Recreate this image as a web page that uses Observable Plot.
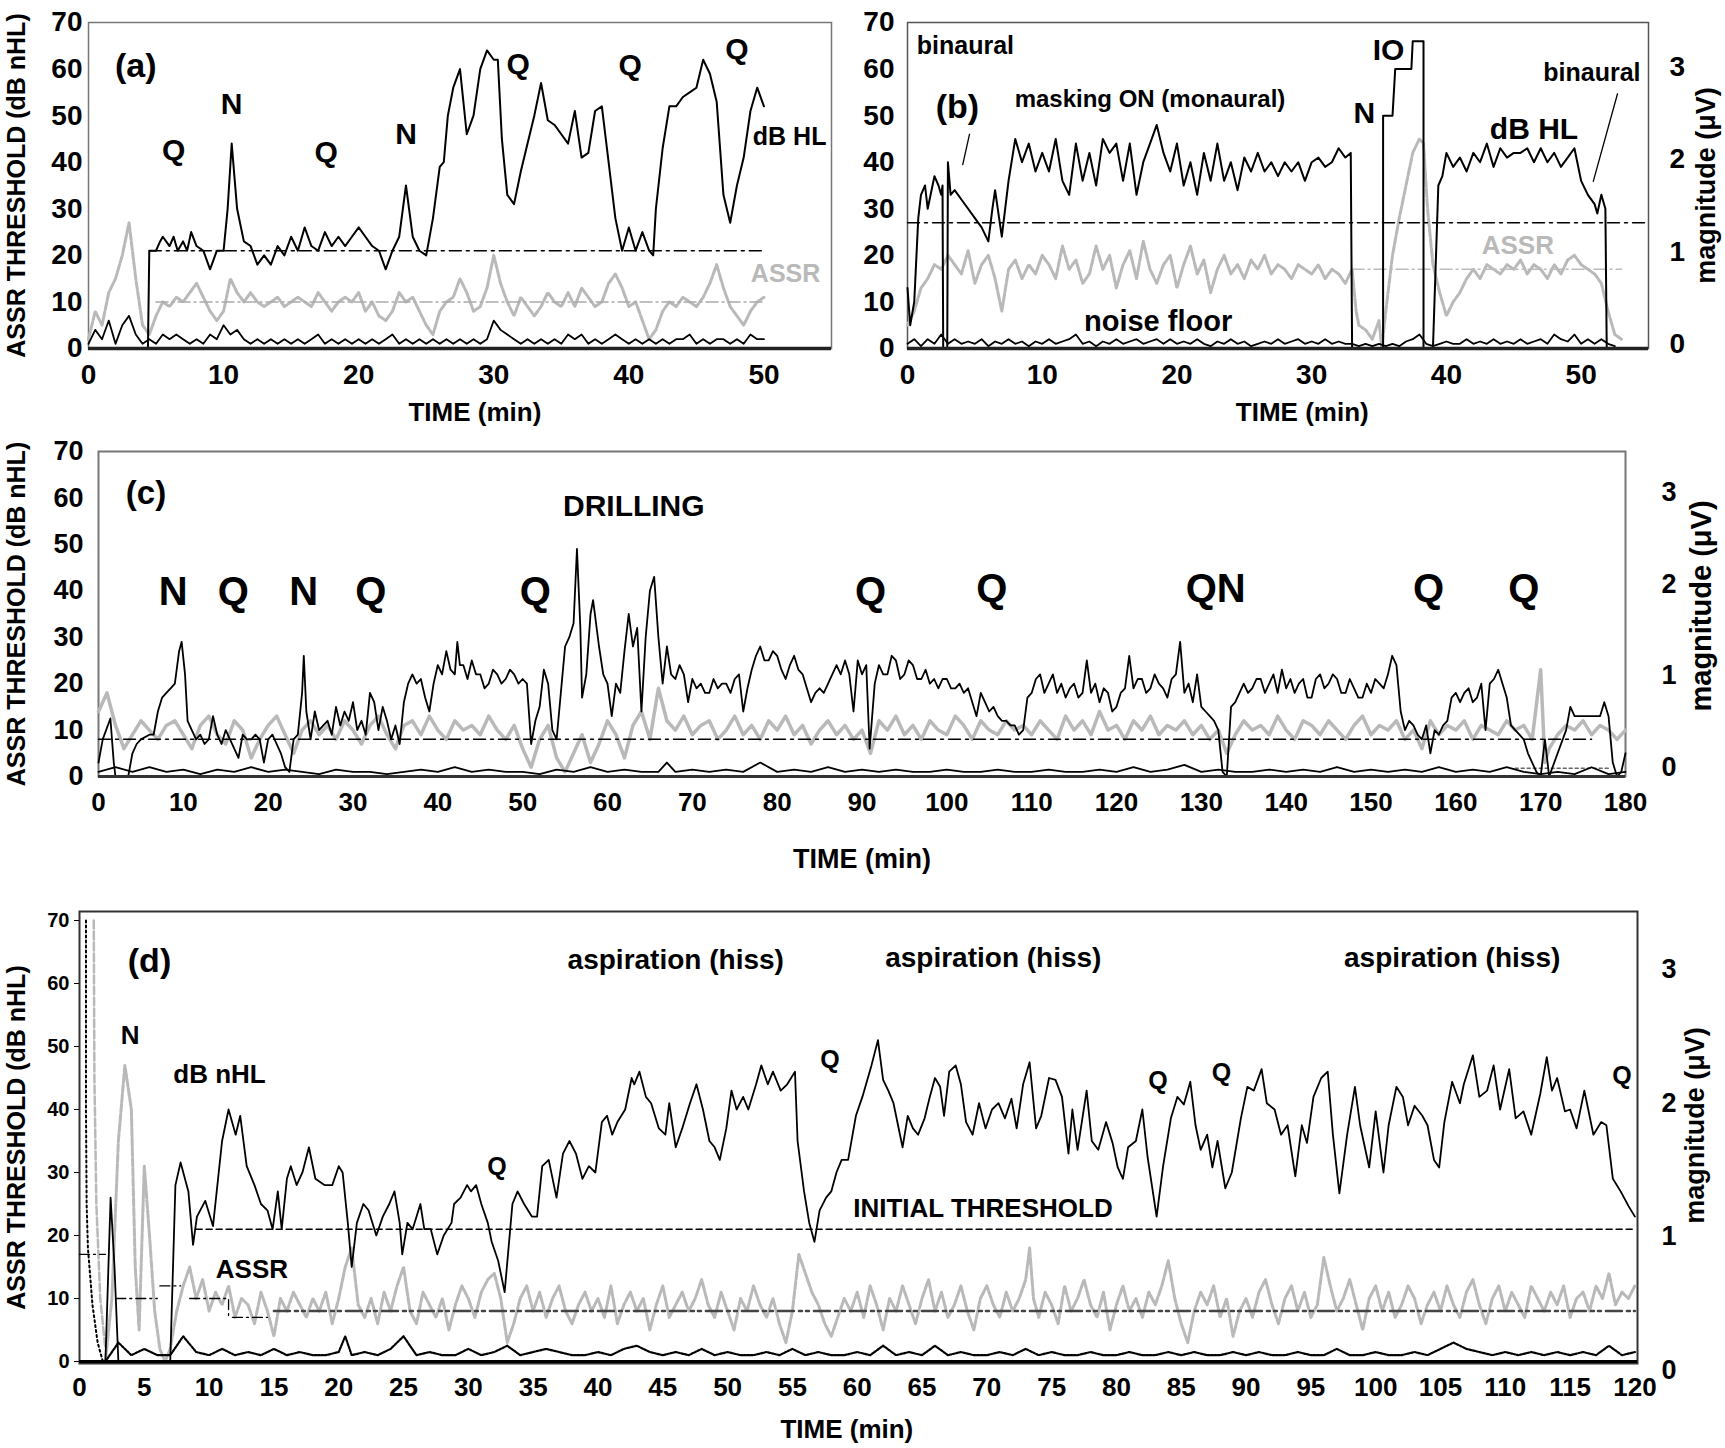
<!DOCTYPE html>
<html><head><meta charset="utf-8">
<script src="https://cdn.jsdelivr.net/npm/d3@7"></script>
<script src="https://cdn.jsdelivr.net/npm/@observablehq/plot@0.6"></script>
<style>
html,body{margin:0;padding:0;background:#fff}
body{width:1725px;height:1448px;position:relative;overflow:hidden;font-family:"Liberation Sans",Arial,sans-serif}
.panel{position:absolute}
</style></head><body>
<div id="pa" class="panel" style="left:0;top:0"></div>
<div id="pb" class="panel" style="left:860px;top:0"></div>
<div id="pc" class="panel" style="left:0;top:440px"></div>
<div id="pd" class="panel" style="left:0;top:890px"></div>
<script>
// ---------------- DATA ----------------
// Panel (a)
const aXTicks = [0,10,20,30,40,50];
const aYTicks = [0,10,20,30,40,50,60,70];
const aHL = [[4.4,0],[4.5,21],[5,21],[5.3,23],[5.5,24],[6,22],[6.3,24],[6.6,21],[7,23],[7.3,21],[7.6,25],[8,22],[8.5,21],[9,17],[9.5,21],[10,21],[10.3,30],[10.6,44],[11,30],[11.5,23],[12,22],[12.5,18],[13,20],[13.5,18],[14,22],[14.5,20],[15,24],[15.5,21],[16,26],[16.5,22],[17,21],[17.5,25],[18,22],[18.5,24],[19,22],[19.5,24],[20,26],[20.5,24],[21,22],[21.5,21],[22,17],[22.5,21],[23,24],[23.5,35],[24,24],[24.5,21],[25,20],[25.5,28],[26,39],[26.3,40],[26.6,50],[27,56],[27.5,60],[28,46],[28.5,50],[29,60],[29.5,64],[30,62],[30.3,62],[30.6,45],[31,33],[31.5,31],[32,38],[32.5,44],[33,50],[33.5,57],[34,49],[34.5,48],[35,46],[35.5,44],[36,51],[36.5,41],[37,42],[37.5,51],[38,52],[38.5,40],[39,28],[39.5,21],[40,26],[40.5,21],[41,25],[41.5,21],[41.8,20],[42,30],[42.5,43],[43,52],[43.5,52],[44,54],[44.5,55],[45,56],[45.5,62],[46,59],[46.5,53],[47,33],[47.5,27],[48,35],[48.5,41],[49,51],[49.5,56],[50,52]];
const aAssr = [[0,2],[0.5,8],[1,5],[1.5,12],[2,15],[2.5,20],[3,27],[3.5,15],[4,5],[4.5,3],[5,7],[5.5,10],[6,9],[6.5,11],[7,10],[7.5,12],[8,14],[8.5,11],[9,8],[9.5,6],[10,8],[10.5,15],[11,12],[11.5,10],[12,12],[12.5,10],[13,9],[13.5,10],[14,11],[14.5,9],[15,10],[15.5,11],[16,10],[16.5,9],[17,12],[17.5,10],[18,8],[18.5,10],[19,11],[19.5,10],[20,12],[20.5,8],[21,10],[21.5,7],[22,6],[22.5,8],[23,12],[23.5,10],[24,11],[24.5,8],[25,5],[25.5,3],[26,8],[26.5,10],[27,11],[27.5,15],[28,12],[28.5,8],[29,9],[29.5,13],[30,20],[30.5,14],[31,10],[31.5,7],[32,11],[32.5,9],[33,7],[33.5,9],[34,12],[34.5,10],[35,9],[35.5,12],[36,9],[36.5,13],[37,11],[37.5,9],[38,10],[38.5,14],[39,16],[39.5,13],[40,9],[40.5,10],[41,6],[41.5,2],[42,4],[42.5,8],[43,10],[43.5,9],[44,11],[44.5,10],[45,9],[45.5,11],[46,14],[46.5,18],[47,13],[47.5,9],[48,7],[48.5,5],[49,8],[49.5,10],[50,11]];
const aNoise = [[0,1],[0.5,4],[1,2],[1.5,6],[2,1],[2.5,5],[3,7],[3.5,3],[4,1],[4.5,2],[5,1],[5.5,3],[6,2],[6.5,3],[7,2],[7.5,1],[8,2],[8.5,1],[9,3],[9.5,2],[10,5],[10.5,3],[11,4],[11.5,2],[12,1],[12.5,2],[13,1],[13.5,2],[14,1],[14.5,2],[15,1],[15.5,2],[16,1],[16.5,2],[17,3],[17.5,1],[18,2],[18.5,1],[19,2],[19.5,1],[20,2],[20.5,1],[21,2],[21.5,1],[22,2],[22.5,3],[23,1],[23.5,2],[24,1],[24.5,2],[25,1],[25.5,2],[26,1],[26.5,2],[27,1],[27.5,2],[28,1],[28.5,2],[29,1],[29.5,2],[30,6],[30.5,4],[31,3],[31.5,2],[32,1],[32.5,2],[33,1],[33.5,2],[34,1],[34.5,2],[35,1],[35.5,3],[36,2],[36.5,3],[37,1],[37.5,2],[38,1],[38.5,2],[39,3],[39.5,2],[40,1],[40.5,2],[41,1],[41.5,2],[42,1],[42.5,2],[43,1],[43.5,2],[44,2],[44.5,3],[45,1],[45.5,2],[46,1],[46.5,2],[47,2],[47.5,1],[48,2],[48.5,1],[49,3],[49.5,2],[50,2]];
const aHLRef = [[4.5,21],[50,21]];
const aAssrRef = [[5,10],[50,10]];
const aNotes = [[3.5,60.7,"(a)",34],[6.3,42.5,"Q",30],[10.6,52.5,"N",30],[17.6,42.1,"Q",30],[23.5,46,"N",30],[31.8,61,"Q",30],[40.1,60.7,"Q",30],[48,64.3,"Q",30],[51.9,45.4,"dB HL",25]];
const aGrayNotes = [[51.6,15.9,"ASSR",25]];

// Panel (b)
const bXTicks = [0,10,20,30,40,50];
const bYTicks = [0,10,20,30,40,50,60,70];
const bMagTicks = [0,1,2,3];
const bHL = [[0,13],[0.2,5],[0.5,10],[0.8,28],[1,33],[1.3,35],[1.5,30],[2,37],[2.3,35],[2.5,33],[2.6,35],[2.65,0],[2.95,0],[3,40],[3.2,33],[3.5,34],[4,32],[4.5,30],[5,28],[5.5,26],[6,23],[6.3,30],[6.5,34],[6.8,28],[7,24],[7.5,36],[8,45],[8.5,40],[9,44],[9.5,38],[10,42],[10.5,38],[11,45],[11.5,36],[12,33],[12.5,44],[13,36],[13.5,42],[14,35],[14.5,45],[15,42],[15.5,44],[16,36],[16.5,44],[17,33],[17.5,40],[18,44],[18.5,48],[19,42],[19.5,38],[20,44],[20.5,35],[21,40],[21.5,33],[22,42],[22.5,36],[23,44],[23.5,36],[24,40],[24.5,34],[25,41],[25.5,38],[26,42],[26.5,38],[27,40],[27.5,37],[28,40],[28.5,38],[29,40],[29.5,36],[30,40],[30.5,41],[31,39],[31.5,40],[32,43],[32.5,41],[32.9,42],[33,0],[35.3,0],[35.3,50],[36,50],[36.2,60],[37.4,60],[37.5,66],[38.3,66],[38.3,0],[39,0],[39.4,35],[39.7,37],[40,42],[40.5,39],[41,41],[41.5,38],[42,42],[42.5,40],[43,44],[43.5,39],[44,43],[44.5,41],[45,42],[45.5,42],[46,43],[46.5,40],[47,43],[47.5,40],[48,42],[48.5,39],[49,41],[49.5,43],[50,36],[50.5,33],[51,31],[51.2,29],[51.5,33],[51.8,30],[51.9,0],[52.3,0]];
const bAssr = [[0,5],[0.5,8],[1,13],[1.5,15],[2,18],[2.5,17],[3,20],[3.5,18],[4,16],[4.5,21],[5,14],[5.5,18],[6,20],[6.5,15],[7,8],[7.5,17],[8,19],[8.5,15],[9,18],[9.5,16],[10,20],[10.5,18],[11,15],[11.5,22],[12,17],[12.5,19],[13,14],[13.5,16],[14,22],[14.5,17],[15,20],[15.5,13],[16,18],[16.5,21],[17,15],[17.5,23],[18,17],[18.5,14],[19,18],[19.5,20],[20,13],[20.5,18],[21,22],[21.5,16],[22,19],[22.5,12],[23,17],[23.5,20],[24,16],[24.5,18],[25,15],[25.5,19],[26,17],[26.5,20],[27,16],[27.5,18],[28,17],[28.5,15],[29,18],[29.5,17],[30,16],[30.5,18],[31,15],[31.5,17],[32,16],[32.5,14],[33,17],[33.3,8],[33.5,5],[34,4],[34.5,2],[35,6],[35.2,0],[35.5,8],[36,20],[36.5,28],[37,35],[37.5,42],[38,45],[38.3,44],[38.6,30],[39,18],[39.5,12],[40,7],[40.5,10],[41,12],[41.5,15],[42,17],[42.5,15],[43,18],[43.5,17],[44,16],[44.5,18],[45,17],[45.5,19],[46,16],[46.5,18],[47,17],[47.5,15],[48,18],[48.5,16],[49,19],[49.5,20],[50,18],[50.5,17],[51,16],[51.5,14],[52,8],[52.5,3],[53,2]];
const bNoise = [[0,1],[0.5,2],[1,0.5],[1.5,2],[2,1],[2.5,3],[3,1],[3.5,2],[4,1],[4.5,1.5],[5,1],[5.5,2],[6,0.5],[6.5,1.5],[7,1],[7.5,2],[8,1],[8.5,1.5],[9,0.5],[9.5,1.5],[10,1],[10.5,2],[11,1],[11.5,1.5],[12,2],[12.5,3],[13,1],[13.5,1.5],[14,0.5],[14.5,1.5],[15,1],[15.5,2],[16,1],[16.5,1.5],[17,2],[17.5,1],[18,1.5],[18.5,2],[19,1],[19.5,2],[20,1],[20.5,1.5],[21,1],[21.5,2],[22,1],[22.5,0.5],[23,1.5],[23.5,1],[24,2],[24.5,1],[25,1.5],[25.5,0.5],[26,1],[26.5,1.5],[27,1],[27.5,2],[28,1],[28.5,1.5],[29,2],[29.5,1],[30,1.5],[30.5,1],[31,2],[31.5,1],[32,1.5],[32.5,1],[33,1],[33.5,0.5],[34,1],[34.5,0.5],[35,1],[35.5,0.5],[36,1],[36.5,0.5],[37,1.5],[37.5,2],[38,3],[38.5,1],[39,0.5],[39.5,1],[40,1.5],[40.5,1],[41,1],[41.5,2],[42,1],[42.5,1.5],[43,1],[43.5,2],[44,1],[44.5,1.5],[45,1],[45.5,2],[46,1],[46.5,1.5],[47,2],[47.5,1],[48,3],[48.5,2],[49,1.5],[49.5,3],[50,1],[50.5,2],[51,1],[51.5,2],[52,1],[52.5,0.5]];
const bHLRef = [[0,27],[55,27]];
const bAssrRef = [[33,17],[53,17]];
const bLeaders = [[4.6,46,0],[4.1,39.5,0],[52.7,54.7,1],[50.9,35.9,1]];
const bNotes = [[4.3,64.9,"binaural",25],[3.7,51.8,"(b)",34],[18,53.6,"masking ON (monaural)",24],[33.9,50.4,"N",30],[35.7,64.1,"IO",30],[50.8,59.2,"binaural",25],[46.5,47.1,"dB HL",30],[18.6,5.8,"noise floor",29]];
const bGrayNotes = [[45.3,22,"ASSR",26]];

// Panel (c)
const cXTicks = [0,10,20,30,40,50,60,70,80,90,100,110,120,130,140,150,160,170,180];
const cYTicks = [0,10,20,30,40,50,60,70];
const cMagTicks = [0,1,2,3];
const cHL = [[0,3],[0.5,8],[1.4,12.5],[1.8,3],[2,0],[3.5,0],[4,5],[4.5,7],[5,8],[6,9],[6.5,9],[7,14],[7.5,17],[8,18],[8.5,19],[9,20],[9.5,27],[9.8,29],[10.2,22],[10.5,12],[11,10],[11.5,8],[12,9],[12.5,7],[13,8],[13.5,13],[14,9],[14.5,7],[15,10],[15.5,8],[16,6],[16.5,4],[17,9],[17.5,8],[18,8],[18.5,9],[19,8],[19.5,3],[20,8],[20.5,9],[21,7],[21.5,5],[22,2],[22.5,1],[23,8],[23.5,9],[24,18],[24.2,26],[24.5,14],[25,8],[25.5,14],[26,10],[26.5,11],[27,12],[27.5,9],[28,15],[28.5,11],[29,14],[29.5,12],[30,16],[30.5,10],[31,12],[31.5,9],[32,18],[32.5,16],[33,10],[33.5,15],[34,12],[34.5,8],[35,11],[35.5,7],[36,16],[36.5,20],[37,22],[37.5,20],[38,21],[38.5,17],[39,14],[39.5,20],[40,24],[40.5,22],[41,27],[41.5,23],[42,22],[42.3,29],[42.6,24],[43,24],[43.5,21],[44,25],[44.5,22],[45,22],[45.5,19],[46,20],[46.5,23],[47,22],[47.5,20],[48,21],[48.5,23],[49,22],[49.5,20],[50,21],[50.5,20],[51,7],[51.5,12],[52,15],[52.5,23],[53,20],[53.5,10],[54,8],[54.5,18],[55,28],[55.5,30],[56,33],[56.4,49],[56.8,32],[57,17],[57.5,22],[58,35],[58.3,38],[59,28],[59.5,22],[60,20],[60.5,13],[61,20],[61.5,18],[62,27],[62.5,35],[63,28],[63.5,32],[64,14],[64.5,30],[65,40],[65.5,43],[66,30],[66.5,20],[67,28],[67.5,22],[68,21],[68.5,24],[69,22],[69.5,16],[70,21],[70.5,19],[71,20],[71.5,18],[72,18],[72.5,21],[73,19],[73.5,20],[74,20],[74.5,18],[75,21],[75.5,22],[76,14],[76.5,19],[77,23],[77.5,26],[78,28],[78.5,25],[79,25],[79.5,27],[80,26],[80.5,23],[81,21],[81.5,24],[82,26],[82.5,23],[83,22],[83.5,19],[84,16],[84.5,18],[85,19],[85.5,18],[86,20],[86.5,22],[87,24],[87.5,22],[88,25],[88.5,22],[89,14],[89.5,25],[90,22],[90.5,24],[90.9,6],[91.5,20],[92,24],[92.5,22],[93,22],[93.5,26],[94,25],[94.5,21],[95,22],[95.5,25],[96,24],[96.5,21],[97,21],[97.5,23],[98,20],[98.5,21],[99,19],[99.5,21],[100,21],[100.5,19],[101,19],[101.5,20],[102,18],[102.5,19],[103,16],[103.5,13],[104,18],[104.5,16],[105,14],[105.5,15],[106,13],[106.5,12],[107,12],[107.5,11],[108,11],[108.5,9],[109,10],[109.5,17],[110,18],[110.5,21],[111,22],[111.5,18],[112,20],[112.5,22],[113,18],[113.5,20],[114,17],[114.5,19],[115,20],[115.5,17],[116,18],[116.5,25],[117,18],[117.5,20],[118,16],[118.5,19],[119,18],[119.5,14],[120,15],[120.5,18],[121,19],[121.5,26],[122,19],[122.5,21],[123,21],[123.5,18],[124,19],[124.5,22],[125,20],[125.5,19],[126,17],[126.5,21],[127,22],[127.5,29],[128,18],[128.5,20],[129,16],[129.5,22],[130,15],[130.5,14],[131,13],[131.5,12],[132,10],[132.5,1],[133,0],[133.5,15],[134,16],[134.5,18],[135,20],[135.5,18],[136,19],[136.5,21],[137,21],[137.5,18],[138,20],[138.5,22],[139,18],[139.5,23],[140,19],[140.5,21],[141,18],[141.5,20],[142,21],[142.5,17],[143,17],[143.5,21],[144,22],[144.5,19],[145,20],[145.5,22],[146,21],[146.5,18],[147,18],[147.5,21],[148,19],[148.5,17],[149,17],[149.5,20],[150,18],[150.5,21],[151,20],[151.5,19],[152,22],[152.5,26],[153,24],[153.5,14],[154,10],[154.5,12],[155,11],[155.5,9],[156,8],[156.5,11],[157,5],[157.5,10],[158,9],[158.5,11],[159,12],[159.5,17],[160,18],[160.5,16],[161,18],[161.5,19],[162,16],[162.5,17],[163,20],[163.5,10],[164,20],[164.5,21],[165,23],[165.5,20],[166,17],[166.5,11],[167,10],[167.5,9],[168,8],[168.5,5],[169,3],[169.5,1],[170,0],[170.5,8],[171,0],[172,5],[173,10],[173.5,15],[174,13],[175,13],[176,13],[177,13],[177.5,16],[178,13],[178.5,3],[179,0],[179.5,1],[180,5]];
const cAssr = [[0,14],[1,18],[2,11],[3,6],[4,9],[5,12],[6,10],[7,8],[8,11],[9,12],[10,9],[11,6],[12,11],[13,13],[14,9],[15,7],[16,12],[17,10],[18,4],[19,8],[20,11],[21,13],[22,9],[23,5],[24,10],[25,12],[26,9],[27,11],[28,8],[29,12],[30,10],[31,7],[32,11],[33,13],[34,9],[35,6],[36,11],[37,12],[38,9],[39,13],[40,10],[41,8],[42,12],[43,10],[44,11],[45,9],[46,13],[47,10],[48,8],[49,11],[50,6],[51,2],[52,8],[53,11],[54,4],[55,1],[56,5],[57,9],[58,3],[59,7],[60,12],[61,9],[62,4],[63,11],[64,14],[65,8],[66,19],[67,12],[68,10],[69,13],[70,9],[71,11],[72,12],[73,8],[74,10],[75,13],[76,9],[77,11],[78,8],[79,12],[80,10],[81,13],[82,9],[83,11],[84,7],[85,10],[86,12],[87,9],[88,11],[89,8],[90,10],[91,5],[92,12],[93,10],[94,13],[95,9],[96,11],[97,8],[98,12],[99,10],[100,9],[101,13],[102,11],[103,8],[104,12],[105,10],[106,9],[107,12],[108,10],[109,11],[110,9],[111,12],[112,10],[113,8],[114,13],[115,10],[116,12],[117,9],[118,14],[119,10],[120,11],[121,8],[122,12],[123,10],[124,13],[125,9],[126,11],[127,10],[128,12],[129,9],[130,11],[131,8],[132,10],[133,5],[134,9],[135,12],[136,10],[137,11],[138,9],[139,13],[140,10],[141,8],[142,12],[143,11],[144,9],[145,12],[146,10],[147,8],[148,11],[149,13],[150,9],[151,11],[152,10],[153,12],[154,8],[155,10],[156,6],[157,12],[158,9],[159,11],[160,10],[161,12],[162,8],[163,11],[164,10],[165,9],[166,12],[167,10],[168,11],[169,8],[170,23],[170.5,3],[171,6],[172,9],[173,11],[174,10],[175,12],[176,9],[177,11],[178,10],[179,8],[180,10]];
const cNoise = [[0,1],[2,2],[4,1],[6,2],[8,1],[10,1.5],[12,0.5],[14,1.5],[16,1],[18,2],[20,1],[22,1.5],[24,1],[26,0.5],[28,1.5],[30,1],[32,1],[34,0.5],[36,1],[38,1.5],[40,1],[42,2],[44,1],[46,1.5],[48,1],[50,1],[52,0.5],[54,1.5],[56,1],[58,2],[60,1],[62,1.5],[64,1],[66,1],[67,3],[68,1],[70,1.5],[72,1],[74,1.5],[76,1],[78,3],[80,1],[82,1.5],[84,1],[86,2],[88,1],[90,1.5],[92,1],[94,1.5],[96,1],[98,1],[100,1.5],[102,1],[104,1],[106,1.5],[108,1],[110,1],[112,1.5],[114,1],[116,1],[118,1.5],[120,1],[122,2],[124,1],[126,1.5],[128,2.5],[130,1],[132,1.5],[134,1],[136,1],[138,1.5],[140,1],[142,1.5],[144,1],[146,2],[148,1],[150,1.5],[152,1],[154,1.5],[156,1],[158,2],[160,1],[162,1.5],[164,1],[166,2],[168,1],[170,0.5],[172,1],[174,0.5],[176,2],[178,0.5],[180,1]];
const cHLRef = [[0,8],[176,8]];
const cNoiseRef = [[167,1.8],[178,1.8]];
const cNotes = [[5.6,61,"(c)",33],[63.1,58.2,"DRILLING",30],[8.8,39.7,"N",40],[15.9,39.7,"Q",40],[24.2,39.7,"N",40],[32.1,39.7,"Q",40],[51.5,39.7,"Q",40],[91,39.7,"Q",40],[105.3,40.4,"Q",40],[131.7,40.4,"QN",40],[156.8,40.4,"Q",40],[168,40.4,"Q",40]];

// Panel (d)
const dXTicks = [0,5,10,15,20,25,30,35,40,45,50,55,60,65,70,75,80,85,90,95,100,105,110,115,120];
const dYTicks = [0,10,20,30,40,50,60,70];
const dMagTicks = [0,1,2,3];
const dHL = [[2,0],[2.4,26],[2.7,15],[3,0],[7,0],[7.4,28],[7.8,31.6],[8.4,27],[8.76,18.5],[9.06,23],[9.7,25.5],[10.3,21.5],[11,35],[11.5,40],[12.05,36],[12.4,39],[12.9,31],[13.5,28],[14,25],[14.5,24],[14.9,21],[15.3,27],[15.6,21],[16,29],[16.3,31],[16.75,28],[17.2,30],[17.7,34],[18.2,29],[18.9,28],[19.5,28],[20,31],[20.3,30],[20.7,22],[21,15],[21.4,22],[21.9,25],[22.3,24],[22.6,22],[22.9,20],[23.4,23],[23.9,25],[24.3,27],[24.7,22],[24.9,17],[25.3,22],[25.7,21],[26.3,25],[26.6,21],[27.1,21],[27.6,17],[28.1,20],[28.7,22],[28.9,25],[29.4,26],[29.9,28],[30.2,27],[30.6,28],[31,25],[31.5,22],[31.8,19],[32.3,16],[32.8,11],[33.1,18],[33.4,25],[33.8,27],[34.3,25],[34.9,23],[35.3,23],[35.7,31],[36.2,32],[36.8,26],[37.3,33],[37.8,35],[38.3,33],[38.8,29],[39.3,31],[39.8,30],[40.3,38],[40.7,39],[41.1,36],[41.5,38],[42.1,40],[42.6,45],[42.8,44],[43.2,46],[43.7,42],[44.1,41],[44.7,37],[45.2,36],[45.5,41],[46,34],[46.5,37],[47.1,41],[47.6,44],[48.1,40],[48.6,35],[49,34],[49.4,32],[49.9,37],[50.3,43],[50.7,40],[51.2,42],[51.6,40],[52.2,44],[52.6,47],[53.1,44],[53.5,46],[54.1,43],[54.6,44],[55.2,46],[55.4,35],[55.9,27],[56.3,22],[56.7,19],[57.1,24],[57.6,26],[58,27],[58.4,30],[58.8,32],[59.3,32],[59.9,39],[60.4,42],[61.1,47],[61.6,51],[62,44.7],[62.4,43],[62.8,41],[63.5,34],[63.9,39],[64.3,37],[64.7,36],[65.2,38.6],[65.6,42],[66,45],[66.4,43.6],[66.7,39],[67.1,46],[67.6,47],[68,44],[68.4,38],[68.9,36],[69.4,41],[69.9,37],[70.4,40],[70.9,41],[71.4,38.6],[71.9,41.7],[72.3,37],[72.8,44],[73.3,47.5],[73.8,37],[74.2,39],[74.8,45],[75.3,44.7],[75.8,42],[76.3,33],[76.6,40],[77,33.6],[77.7,43],[78.1,35],[78.6,33.6],[79.2,38],[79.7,34.7],[80.1,30.8],[80.5,29],[80.9,34],[81.5,35],[82,40],[82.4,32.5],[83.1,23],[83.6,31],[84.2,38.6],[84.7,42],[85.2,40.8],[85.7,44.4],[86.1,37.5],[86.5,33.6],[87,36],[87.4,30.8],[87.8,35],[88.4,27.5],[88.9,30],[89.6,38.6],[90.1,43.6],[90.6,43],[91.2,46.4],[91.6,41],[92.2,40],[92.7,36],[93.2,37.5],[93.8,29.4],[94.3,37.5],[94.7,34.7],[95.2,42],[95.8,45],[96.3,46],[96.7,36],[97.2,26.7],[97.8,36],[98.4,43.6],[98.8,37.5],[99.5,30.8],[100,39.7],[100.6,30],[101,37.5],[101.6,43.6],[102.1,42],[102.5,37.5],[103,40.6],[103.6,39],[104,37.5],[104.5,32],[104.9,30.8],[105.3,38],[105.9,44.4],[106.5,41],[106.8,44],[107.5,48.6],[108,42],[108.6,43],[109.1,47],[109.6,40],[110.3,46.4],[110.8,38.6],[111.4,39.7],[112,36],[112.7,42.5],[113.2,48.3],[113.6,43],[114,45],[114.6,39.7],[115,40],[115.5,37],[116.1,43],[116.8,36],[117.4,38],[117.8,37.5],[118.3,29],[118.9,27],[119.5,24.7],[120,23]];
const dAssr = [[2,0],[2.5,10],[3,35],[3.5,47],[4,40],[4.3,15],[4.6,5],[5,31],[5.4,20],[5.8,8],[6.2,2],[6.6,0],[7,2],[7.5,8],[8,12],[8.5,15],[9,10],[9.5,13],[10,8],[10.5,11],[11,9],[11.5,12],[12,7],[12.5,10],[13,9],[13.5,6],[14,11],[14.5,8],[15,4],[15.5,10],[16,8],[16.5,11],[17,9],[17.5,7],[18,10],[18.5,8],[19,11],[19.5,6],[20,10],[20.5,15],[21,18],[21.5,9],[22,7],[22.5,10],[23,6],[23.5,11],[24,8],[24.5,12],[25,15],[25.5,8],[26,6],[26.5,11],[27,9],[27.5,7],[28,10],[28.5,5],[29,9],[29.5,12],[30,10],[30.5,7],[31,11],[31.5,13],[32,14],[32.5,10],[33,3],[33.5,6],[34,10],[34.5,12],[35,8],[35.5,11],[36,7],[36.5,10],[37,12],[37.5,8],[38,6],[38.5,9],[39,11],[39.5,8],[40,10],[40.5,7],[41,12],[41.5,6],[42,9],[42.5,11],[43,8],[43.5,10],[44,5],[44.5,9],[45,12],[45.5,7],[46,9],[46.5,11],[47,8],[47.5,10],[48,13],[48.5,9],[49,7],[49.5,11],[50,8],[50.5,5],[51,10],[51.5,8],[52,12],[52.5,9],[53,7],[53.5,10],[54,6],[54.5,3],[55,8],[55.5,17],[56,14],[56.5,11],[57,9],[57.5,6],[58,4],[58.5,7],[59,10],[59.5,8],[60,11],[60.5,7],[61,12],[61.5,9],[62,5],[62.5,10],[63,8],[63.5,12],[64,9],[64.5,6],[65,10],[65.5,13],[66,8],[66.5,11],[67,7],[67.5,9],[68,12],[68.5,8],[69,5],[69.5,10],[70,12],[70.5,9],[71,7],[71.5,11],[72,8],[72.5,10],[73,13],[73.3,18],[73.6,10],[74,7],[74.5,11],[75,9],[75.5,6],[76,12],[76.5,8],[77,10],[77.5,13],[78,9],[78.5,7],[79,11],[79.5,5],[80,9],[80.5,12],[81,8],[81.5,10],[82,7],[82.5,11],[83,9],[83.5,12],[84,16],[84.5,10],[85,6],[85.5,3],[86,8],[86.5,11],[87,9],[87.5,12],[88,7],[88.5,10],[89,4],[89.5,8],[90,10],[90.5,7],[91,11],[91.5,13],[92,9],[92.5,6],[93,10],[93.5,12],[94,8],[94.5,11],[95,7],[95.5,9],[96,16.5],[96.5,12],[97,8],[97.5,10],[98,13],[98.5,9],[99,5],[99.5,10],[100,12],[100.5,8],[101,11],[101.5,7],[102,9],[102.5,12],[103,10],[103.5,6],[104,9],[104.5,11],[105,8],[105.5,12],[106,9],[106.5,7],[107,11],[107.5,13],[108,9],[108.5,6],[109,10],[109.5,12],[110,8],[110.5,11],[111,9],[111.5,7],[112,12],[112.5,10],[113,8],[113.5,11],[114,9],[114.5,12],[115,7],[115.5,10],[116,11],[116.5,8],[117,12],[117.5,10],[118,14],[118.5,9],[119,11],[119.5,10],[120,12]];
const dNoise = [[2,0],[3,3],[4,1],[5,2],[6,1],[7,1],[8,4],[9,1.5],[10,1],[11,2],[12,1],[13,1.5],[14,1],[15,2],[16,1],[17,1.5],[18,1],[19,1],[20,1.5],[20.5,4],[21,1],[22,1.5],[23,1],[24,2],[25,4],[26,1],[27,1.5],[28,1],[29,1],[30,2],[31,1],[32,1.5],[33,2.5],[34,1],[35,1.5],[36,2],[37,1.5],[38,1],[39,1],[40,1.5],[41,1],[42,2],[43,2.5],[44,1.5],[45,1],[46,1.5],[47,1],[48,2],[49,1],[50,1.5],[51,1],[52,1],[53,1.5],[54,1],[55,2],[56,1],[57,1.5],[58,1],[59,1],[60,1.5],[61,1],[62,2.5],[63,1],[64,1.5],[65,1],[66,2.5],[67,1],[68,1.5],[69,1],[70,1],[71,1.5],[72,1],[73,2],[74,1],[75,1.5],[76,1],[77,1],[78,1.5],[79,1],[80,1],[81,1.5],[82,1],[83,1],[84,1.5],[85,1],[86,1.5],[87,1],[88,1],[89,1.5],[90,1],[91,1.5],[92,1],[93,1],[94,1.5],[95,1],[96,1],[97,2],[98,1],[99,1],[100,1.5],[101,1],[102,1],[103,1.5],[104,1],[105,2],[106,3],[107,2],[108,1.5],[109,1],[110,1.5],[111,1],[112,1.5],[113,1],[114,1.5],[115,1],[116,1.5],[117,1],[118,2.5],[119,1],[120,1.5]];
const dEarlyBlack = [[0.5,70],[0.5,40],[0.55,25],[0.65,18],[1.0,9],[1.4,3],[1.8,0]];
const dEarlyGray = [[1.1,70],[1.15,45],[1.3,25],[1.6,10],[2,2]];
const dStepRef = [[0,17,0],[2,17,0],[2.8,10,1],[6,10,1],[6.2,12,2],[7.8,12,2],[8.5,10,3],[11.5,10,3],[11.5,7,3],[11.8,7,4],[14.5,7,4]];
const dAssrRef = [[15,8],[120,8]];
const dInitRef = [[9,21],[120,21]];
const dNotes = [[5.4,63.5,"(d)",34],[3.9,51.7,"N",26],[10.8,45.6,"dB nHL",26],[13.3,14.6,"ASSR",26],[32.2,30.9,"Q",25],[57.9,47.8,"Q",25],[46,63.8,"aspiration (hiss)",28],[70.5,64,"aspiration (hiss)",28],[105.9,64,"aspiration (hiss)",28],[69.7,24.2,"INITIAL THRESHOLD",26],[83.2,44.6,"Q",25],[88.1,45.8,"Q",25],[119,45.3,"Q",25]];

// secondary-axis calibration (dB position of magnitude ticks)
const bMag = {off: 1, k: 19.8};
const cMag = {off: 2, k: 19.7};
const dMag = {off: -1.4, k: 21.2};

// ---------------- HELPERS ----------------
const FONT = '"Liberation Sans", Arial, Helvetica, sans-serif';
const X = d => d[0], Y = d => d[1];
const GRAY = "#b9b9b9";
const style = {fontFamily: FONT, background: "transparent", color: "#000", overflow: "visible"};
const notes = (arr, fill = "#000") => arr.map(n => Plot.text([n], {x: X, y: Y, text: d => d[2], fontSize: n[3], fontWeight: "bold", fill}));
const yTitle = (dx, fs) => Plot.text(["ASSR THRESHOLD (dB nHL)"], {frameAnchor: "left", dx, rotate: -90, textAnchor: "middle", lineAnchor: "middle", fontSize: fs, fontWeight: "bold"});
const magTitle = (dx, fs, dy = 0) => Plot.text(["magnitude (\u03bcV)"], {frameAnchor: "right", dx, dy, rotate: -90, textAnchor: "middle", lineAnchor: "middle", fontSize: fs, fontWeight: "bold"});
const xTitle = (x, dy, fs) => Plot.text(["TIME (min)"], {x: [x], frameAnchor: "bottom", dy, lineAnchor: "middle", fontSize: fs, fontWeight: "bold"});
const magAxis = (ticks, cal, pad, fs) => Plot.axisY({anchor: "right", ticks: ticks.map(m => cal.off + cal.k * m), tickFormat: d => String(Math.round((d - cal.off) / cal.k)), tickSize: 0, tickPadding: pad, fontSize: fs, fontWeight: "bold", label: null});

// ---------------- PANEL (a) ----------------
document.getElementById("pa").append(Plot.plot({
  width: 860, height: 440, marginLeft: 88, marginRight: 29, marginTop: 22, marginBottom: 92,
  x: {domain: [0, 55]}, y: {domain: [0, 70]}, style,
  marks: [
    Plot.frame({stroke: "#777", strokeWidth: 1.5}),
    Plot.line(aAssr, {x: X, y: Y, stroke: GRAY, strokeWidth: 3, strokeDasharray: "8,2"}),
    Plot.line(aAssrRef, {x: X, y: Y, stroke: "#aaa", strokeWidth: 1.5, strokeDasharray: "12,4,2,4"}),
    Plot.line(aHLRef, {x: X, y: Y, stroke: "#000", strokeWidth: 1.5, strokeDasharray: "12,5,3,5"}),
    Plot.line(aNoise, {x: X, y: Y, stroke: "#000", strokeWidth: 1.8}),
    Plot.line(aHL, {x: X, y: Y, stroke: "#000", strokeWidth: 2}),
    Plot.ruleY([0], {stroke: "#222", strokeWidth: 3.5}),
    Plot.axisX({ticks: aXTicks, tickSize: 0, tickPadding: 16, fontSize: 28, fontWeight: "bold", label: null}),
    Plot.axisY({ticks: aYTicks, tickSize: 0, tickPadding: 6, fontSize: 28, fontWeight: "bold", label: null}),
    yTitle(-71.5, 25),
    xTitle(28.6, 64, 26),
    ...notes(aNotes),
    ...notes(aGrayNotes, GRAY)
  ]
}));

// ---------------- PANEL (b) ----------------
document.getElementById("pb").append(Plot.plot({
  width: 865, height: 440, marginLeft: 47, marginRight: 77, marginTop: 22, marginBottom: 92,
  x: {domain: [0, 55]}, y: {domain: [0, 70]}, style,
  marks: [
    Plot.frame({stroke: "#555", strokeWidth: 1.5}),
    Plot.line(bAssr, {x: X, y: Y, stroke: GRAY, strokeWidth: 3, strokeDasharray: "8,2"}),
    Plot.line(bAssrRef, {x: X, y: Y, stroke: "#bbb", strokeWidth: 1.5, strokeDasharray: "12,4,2,4"}),
    Plot.line(bHLRef, {x: X, y: Y, stroke: "#000", strokeWidth: 1.5, strokeDasharray: "12,5,3,5"}),
    Plot.line(bNoise, {x: X, y: Y, stroke: "#000", strokeWidth: 1.8}),
    Plot.line(bHL, {x: X, y: Y, stroke: "#000", strokeWidth: 2}),
    Plot.line(bLeaders, {x: X, y: Y, z: d => d[2], stroke: "#000", strokeWidth: 1.3}),
    Plot.ruleY([0], {stroke: "#222", strokeWidth: 3.5}),
    Plot.axisX({ticks: bXTicks, tickSize: 0, tickPadding: 16, fontSize: 28, fontWeight: "bold", label: null}),
    Plot.axisY({ticks: bYTicks, tickSize: 0, tickPadding: 13, fontSize: 28, fontWeight: "bold", label: null}),
    magAxis(bMagTicks, bMag, 21, 28),
    magTitle(58, 27),
    xTitle(29.3, 64, 26),
    ...notes(bNotes),
    ...notes(bGrayNotes, GRAY)
  ]
}));

// ---------------- PANEL (c) ----------------
document.getElementById("pc").append(Plot.plot({
  width: 1725, height: 440, marginLeft: 98, marginRight: 100, marginTop: 11, marginBottom: 104,
  x: {domain: [0, 180]}, y: {domain: [0, 70]}, style,
  marks: [
    Plot.frame({stroke: "#777", strokeWidth: 2}),
    Plot.line(cAssr, {x: X, y: Y, stroke: GRAY, strokeWidth: 3.5}),
    Plot.line(cHLRef, {x: X, y: Y, stroke: "#000", strokeWidth: 1.5, strokeDasharray: "12,5,3,5"}),
    Plot.line(cNoiseRef, {x: X, y: Y, stroke: "#666", strokeWidth: 1.5, strokeDasharray: "3,3"}),
    Plot.line(cNoise, {x: X, y: Y, stroke: "#000", strokeWidth: 1.8}),
    Plot.line(cHL, {x: X, y: Y, stroke: "#000", strokeWidth: 1.8}),
    Plot.ruleY([0], {stroke: "#333", strokeWidth: 3}),
    Plot.axisX({ticks: cXTicks, tickSize: 0, tickPadding: 16, fontSize: 26, fontWeight: "bold", label: null}),
    Plot.axisY({ticks: cYTicks, tickSize: 0, tickPadding: 15, fontSize: 27, fontWeight: "bold", label: null}),
    magAxis(cMagTicks, cMag, 36, 27),
    magTitle(76, 29, -8),
    yTitle(-81.5, 25),
    xTitle(90, 83, 27),
    ...notes(cNotes)
  ]
}));

// ---------------- PANEL (d) ----------------
document.getElementById("pd").append(Plot.plot({
  width: 1725, height: 558, marginLeft: 79, marginRight: 88, marginTop: 21, marginBottom: 85,
  x: {domain: [0, 120.2]}, y: {domain: [-0.32, 71.43]}, style,
  marks: [
    Plot.frame({stroke: "#333", strokeWidth: 2}),
    Plot.line(dEarlyGray, {x: X, y: Y, stroke: GRAY, strokeWidth: 2.5, strokeDasharray: "8,3"}),
    Plot.line(dAssr, {x: X, y: Y, stroke: GRAY, strokeWidth: 3, strokeDasharray: "8,2"}),
    Plot.line(dStepRef, {x: X, y: Y, z: d => d[2], stroke: "#000", strokeWidth: 1.3, strokeDasharray: "10,4,2,4"}),
    Plot.line(dAssrRef, {x: X, y: Y, stroke: "#444", strokeWidth: 2.5, strokeDasharray: "16,5,3,4,3,5"}),
    Plot.line(dInitRef, {x: X, y: Y, stroke: "#000", strokeWidth: 1.6, strokeDasharray: "6,4"}),
    Plot.line(dEarlyBlack, {x: X, y: Y, stroke: "#000", strokeWidth: 2, strokeDasharray: "2,3"}),
    Plot.line(dNoise, {x: X, y: Y, stroke: "#000", strokeWidth: 2.2, strokeDasharray: "2,1.5"}),
    Plot.line(dHL, {x: X, y: Y, stroke: "#000", strokeWidth: 1.8}),
    Plot.ruleY([0], {stroke: "#000", strokeWidth: 3}),
    Plot.axisX({ticks: dXTicks, tickSize: 0, tickPadding: 14, fontSize: 26, fontWeight: "bold", label: null}),
    Plot.axisY({ticks: dYTicks, tickSize: 5, tickPadding: 5, fontSize: 20, fontWeight: "bold", label: null}),
    magAxis(dMagTicks, dMag, 24, 27),
    magTitle(58, 27, -12),
    yTitle(-62.5, 25),
    xTitle(59.2, 66, 26),
    ...notes(dNotes)
  ]
}));
</script>
</body></html>
